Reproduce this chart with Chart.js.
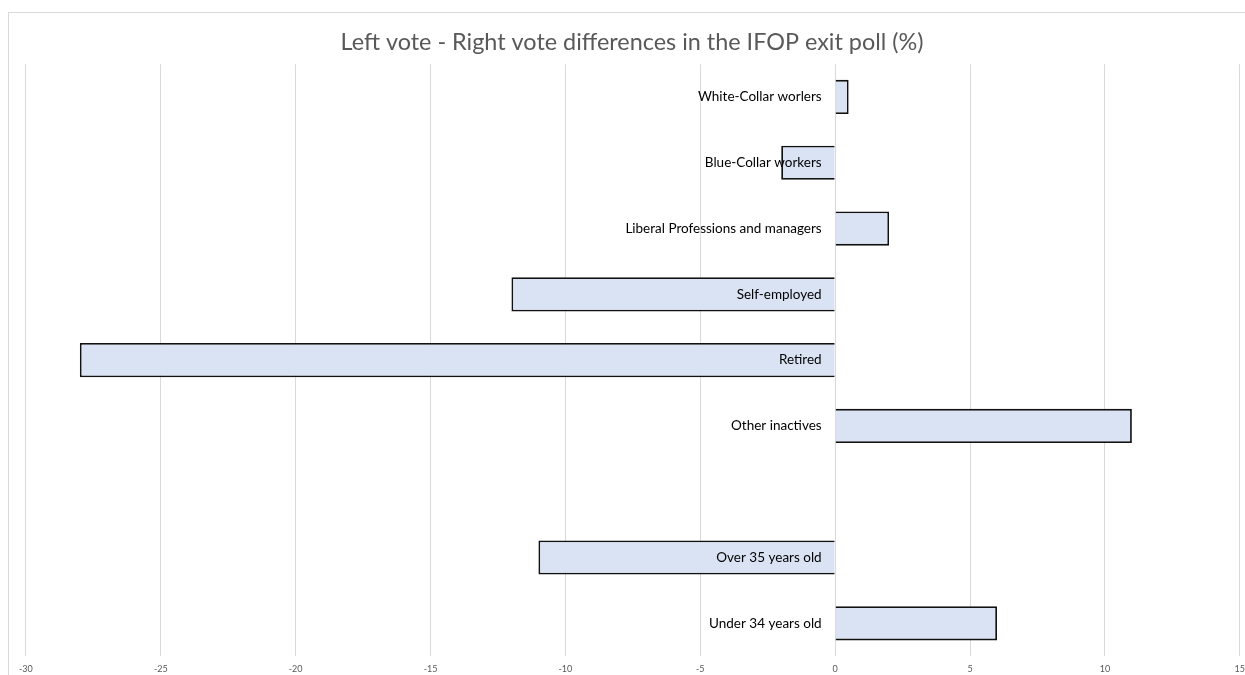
<!DOCTYPE html>
<html>
<head>
<meta charset="utf-8">
<script src="https://cdn.jsdelivr.net/npm/chart.js@4/dist/chart.umd.min.js"></script>
<style>
  html, body { margin: 0; padding: 0; background: #fff; overflow: hidden; }
  #frame { position: absolute; left: 8px; top: 12px; width: 1250px; height: 680px;
           border-left: 1px solid #d9d9d9; border-top: 1px solid #d9d9d9; }
  #wrap { position: absolute; left: 3px; top: 0; width: 1240px; height: 668px; }
</style>
</head>
<body>
<div id="frame"><div id="wrap"><canvas id="cDiff"></canvas></div></div>
<script>
// categories, top to bottom ('' = empty spacer row between the two groups)
const GROUPS = ['White-Collar worlers', 'Blue-Collar workers', 'Liberal Professions and managers',
                'Self-employed', 'Retired', 'Other inactives', '', 'Over 35 years old', 'Under 34 years old'];
// left minus right, percentage points
const DIFFS  = [0.5, -2, 2, -12, -28, 11, null, -11, 6];
const X_MIN = -30, X_MAX = 15, X_STEP = 5;

// category labels sit just left of the zero line, on top of the bars
const LABEL_AT = -0.5;

const tc = '#595959', gc = '#d9d9d9';

new Chart(document.getElementById('cDiff'), {
  type: 'bar',
  data: {
    labels: GROUPS,
    datasets: [{
      data: DIFFS,
      backgroundColor: '#dae3f3',
      borderColor: '#111',
      borderWidth: 1.8,
      categoryPercentage: 1,
      barPercentage: 0.52,
    }],
  },
  options: {
    indexAxis: 'y',
    responsive: true, maintainAspectRatio: false,
    animation: false,
    layout: { padding: 0 },
    plugins: {
      legend: { display: false },
      tooltip: { enabled: false },
      title: {
        display: true,
        text: 'Left vote - Right vote differences in the IFOP exit poll (%)',
        color: tc,
        font: { family: 'Lato', size: 23.4, weight: 'normal' },
        padding: { top: 15, bottom: 8 },
      },
    },
    scales: {
      x: {
        min: X_MIN, max: X_MAX,
        grid: { color: gc, drawTicks: false },
        border: { display: false },
        ticks: { stepSize: X_STEP, color: tc, font: { family: 'Lato', size: 9 }, padding: 7 },
      },
      y: {
        position: { x: LABEL_AT },
        grid: { display: false },
        border: { display: false },
        ticks: { z: 1, color: '#000', font: { family: 'Lato', size: 13.5 } },
      },
    },
  },
});
</script>
</body>
</html>
